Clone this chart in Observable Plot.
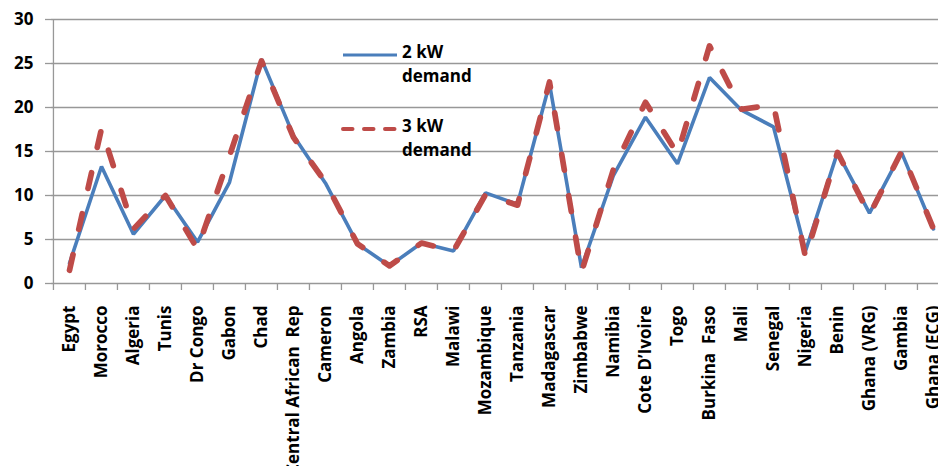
<!DOCTYPE html>
<html>
<head>
<meta charset="utf-8">
<script src="https://cdn.jsdelivr.net/npm/d3@7"></script>
<script src="https://cdn.jsdelivr.net/npm/@observablehq/plot@0.6"></script>
<style>
  html, body { margin: 0; padding: 0; background: #fff; overflow: hidden; }
  #wrap { position: relative; width: 938px; height: 466px; font-family: "Open Sans", sans-serif; }
  .leg { position: absolute; font-weight: bold; font-size: 17px; line-height: 24px; color: #000; }
</style>
</head>
<body>
<div id="wrap"></div>
<script>
const countries = ["Egypt","Morocco","Algeria","Tunis","Dr Congo","Gabon","Chad","Central African  Rep","Cameron","Angola","Zambia","RSA","Malawi","Mozambique","Tanzania","Madagascar","Zimbabwe","Namibia","Cote D\u2019Ivoire","Togo","Burkina  Faso","Mali","Senegal","Nigeria","Benin","Ghana (VRG)","Gambia","Ghana (ECG)"];
const demand2kW = [2.3, 13.3, 5.6, 10.0, 4.7, 11.5, 25.5, 16.8, 11.4, 4.5, 2.0, 4.6, 3.7, 10.3, 9.0, 22.7, 1.8, 12.3, 18.9, 13.6, 23.4, 19.7, 17.8, 3.7, 14.9, 8.0, 14.9, 6.2];
const demand3kW = [1.5, 17.6, 6.2, 10.0, 3.9, 14.5, 25.3, 16.6, 11.5, 4.5, 2.0, 4.6, 3.7, 10.1, 8.9, 22.9, 1.3, 13.0, 20.6, 14.7, 27.0, 19.8, 20.3, 3.0, 14.9, 7.8, 15.0, 6.2];
const yTicks = [0, 5, 10, 15, 20, 25, 30];
const seriesNames = ["2 kW demand", "3 kW demand"];

const blue = "#4A7EBB";
const red = "#BE4B48";
const gray = "#989898";

const rows2 = countries.map((c, i) => ({country: c, value: demand2kW[i]}));
const rows3 = countries.map((c, i) => ({country: c, value: demand3kW[i]}));

const W = 938, H = 466;
const mL = 51, mT = 19, mB = 183;
const xRange = [mL, 950];
const half = (xRange[1] - xRange[0]) / countries.length / 2;

const chart = Plot.plot({
  width: W,
  height: H,
  marginLeft: mL,
  marginRight: 0,
  marginTop: mT,
  marginBottom: mB,
  style: {fontFamily: "'Open Sans', sans-serif", fontWeight: "bold", fontSize: "17px", color: "#000", background: "#fff", overflow: "hidden"},
  x: {type: "point", domain: countries, range: xRange, padding: 0.5},
  y: {domain: [0, 30], ticks: yTicks},
  marks: [
    Plot.gridY(yTicks, {stroke: gray, strokeOpacity: 1, strokeWidth: 1.3}),
    Plot.ruleX([countries[0]], {dx: -half, stroke: gray, strokeWidth: 1.3}),
    Plot.axisY(yTicks, {tickSize: 6, tickPadding: 12, stroke: gray, strokeWidth: 1.3, label: null, fontSize: 17, fontWeight: "bold"}),
    Plot.axisX({tickSize: 7, dx: -half, stroke: gray, strokeWidth: 1.3, tickFormat: () => "", label: null}),
    Plot.axisX({tickSize: 0, tickRotate: -90, tickPadding: 22, label: null, fontSize: 17, fontWeight: "bold", style: {whiteSpace: "pre"}}),
    Plot.line(rows2, {x: "country", y: "value", stroke: blue, strokeWidth: 3.6, strokeLinejoin: "miter"}),
    Plot.line(rows3, {x: "country", y: "value", stroke: red, strokeWidth: 5.7, strokeDasharray: "16,26", strokeLinecap: "round", strokeLinejoin: "round"})
  ]
});

const wrap = document.getElementById("wrap");
wrap.appendChild(chart);

// legend overlay
function legendItem(top, color, dash, width, name) {
  const parts = name.split(" demand");
  const svgNS = "http://www.w3.org/2000/svg";
  const s = document.createElementNS(svgNS, "svg");
  s.setAttribute("width", 60); s.setAttribute("height", 10);
  s.style.position = "absolute"; s.style.left = "341px"; s.style.top = (top - 5) + "px";
  const l = document.createElementNS(svgNS, "line");
  l.setAttribute("x1", 2); l.setAttribute("x2", 56);
  l.setAttribute("y1", 5); l.setAttribute("y2", 5);
  l.setAttribute("stroke", color); l.setAttribute("stroke-width", width);
  if (dash) { l.setAttribute("stroke-dasharray", dash); l.setAttribute("stroke-linecap", "round"); }
  s.appendChild(l);
  wrap.appendChild(s);
  const t = document.createElement("div");
  t.className = "leg";
  t.style.left = "402px"; t.style.top = (top - 15) + "px";
  t.innerHTML = parts[0] + "<br>demand";
  wrap.appendChild(t);
}
legendItem(55, blue, null, 3, seriesNames[0]);
legendItem(129, red, "9.5,11.5", 4, seriesNames[1]);
</script>
</body>
</html>
